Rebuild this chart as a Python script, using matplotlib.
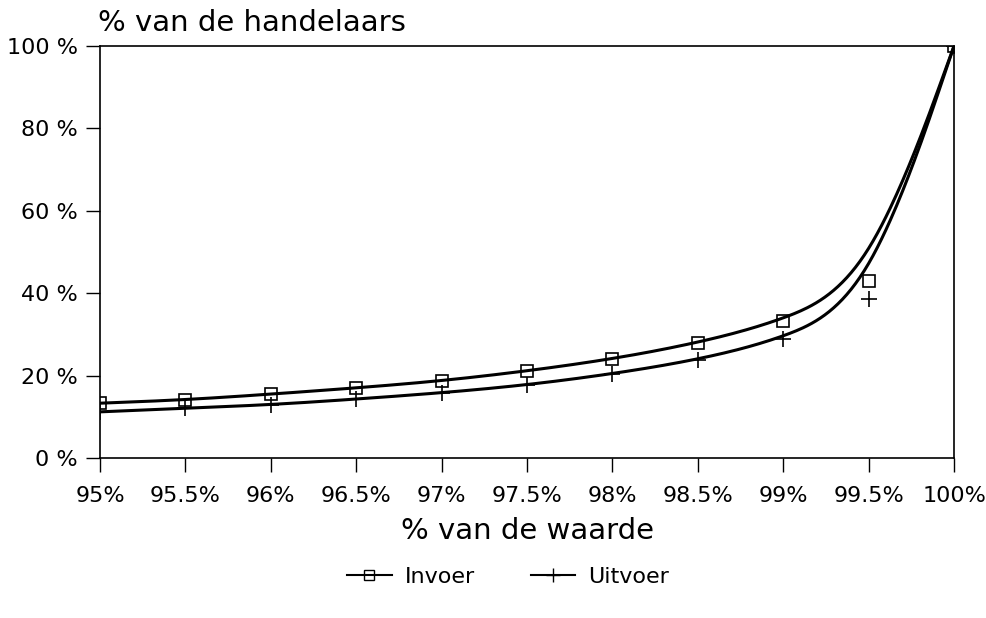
import numpy as np
import matplotlib as mpl
import matplotlib.pyplot as plt

mpl.rcParams['font.family'] = 'DejaVu Sans'

# Gegevens
waarde = [95, 95.5, 96, 96.5, 97, 97.5, 98, 98.5, 99, 99.5, 100]
invoer = [13.3, 14.1, 15.5, 17.0, 18.7, 21.1, 24.0, 27.9, 33.3, 43.0, 100]
uitvoer = [11.2, 12.1, 12.9, 14.3, 15.8, 17.7, 20.4, 23.8, 28.9, 38.6, 100]
x_ticks = [95, 95.5, 96, 96.5, 97, 97.5, 98, 98.5, 99, 99.5, 100]
x_labels = ['95%', '95.5%', '96%', '96.5%', '97%', '97.5%', '98%',
            '98.5%', '99%', '99.5%', '100%']
y_ticks = [0, 20, 40, 60, 80, 100]
y_labels = ['0 %', '20 %', '40 %', '60 %', '80 %', '100 %']


def bspline(xs, ys, n=40):
    # uniforme kubische B-spline met de punten als controlepunten (eindpunten vastgeklemd)
    px = np.r_[[xs[0]] * 2, xs, [xs[-1]] * 2].astype(float)
    py = np.r_[[ys[0]] * 2, ys, [ys[-1]] * 2].astype(float)
    t = np.linspace(0, 1, n)
    b0 = (1 - t) ** 3 / 6
    b1 = (3 * t ** 3 - 6 * t ** 2 + 4) / 6
    b2 = (-3 * t ** 3 + 3 * t ** 2 + 3 * t + 1) / 6
    b3 = t ** 3 / 6
    cx, cy = [], []
    for i in range(len(px) - 3):
        cx.append(b0 * px[i] + b1 * px[i + 1] + b2 * px[i + 2] + b3 * px[i + 3])
        cy.append(b0 * py[i] + b1 * py[i + 1] + b2 * py[i + 2] + b3 * py[i + 3])
    return np.concatenate(cx), np.concatenate(cy)


fig = plt.figure(figsize=(9.87, 6.18), dpi=100)
ax = fig.add_axes([0.1013, 0.2589, 0.8653, 0.6667])

for ys, marker in [(invoer, 's'), (uitvoer, '+')]:
    cx, cy = bspline(waarde, ys)
    ax.plot(cx, cy, color='black', lw=2.2, zorder=2)
    ax.plot(waarde, ys, linestyle='none', marker=marker, ms=9 if marker == 's' else 11,
            mfc='none', mec='black', mew=1.2, zorder=3)

ax.set_xlim(95, 100)
ax.set_ylim(0, 100)
ax.set_xticks(x_ticks)
ax.set_xticklabels(x_labels, fontsize=16)
ax.set_yticks(y_ticks)
ax.set_yticklabels(y_labels, fontsize=16)
ax.tick_params(axis='x', direction='out', length=10, width=1, pad=10)
ax.tick_params(axis='y', direction='out', length=10, width=1, pad=6)
for s in ax.spines.values():
    s.set_linewidth(1.2)

ax.set_xlabel('% van de waarde', fontsize=21, labelpad=8)
fig.text(0.099, 0.963, '% van de handelaars', fontsize=21, ha='left', va='center')

# legenda
h1, = ax.plot([], [], color='black', lw=1.5, marker='s', ms=7, mfc='none', mew=1)
h2, = ax.plot([], [], color='black', lw=1.5, marker='+', ms=10, mew=1)
fig.legend([h1, h2], ['Invoer', 'Uitvoer'], loc='center', bbox_to_anchor=(0.515, 0.066),
           ncol=2, frameon=False, fontsize=16, handlelength=2.0, handletextpad=0.6,
           columnspacing=2.5)

fig.savefig('out.png', dpi=100)
